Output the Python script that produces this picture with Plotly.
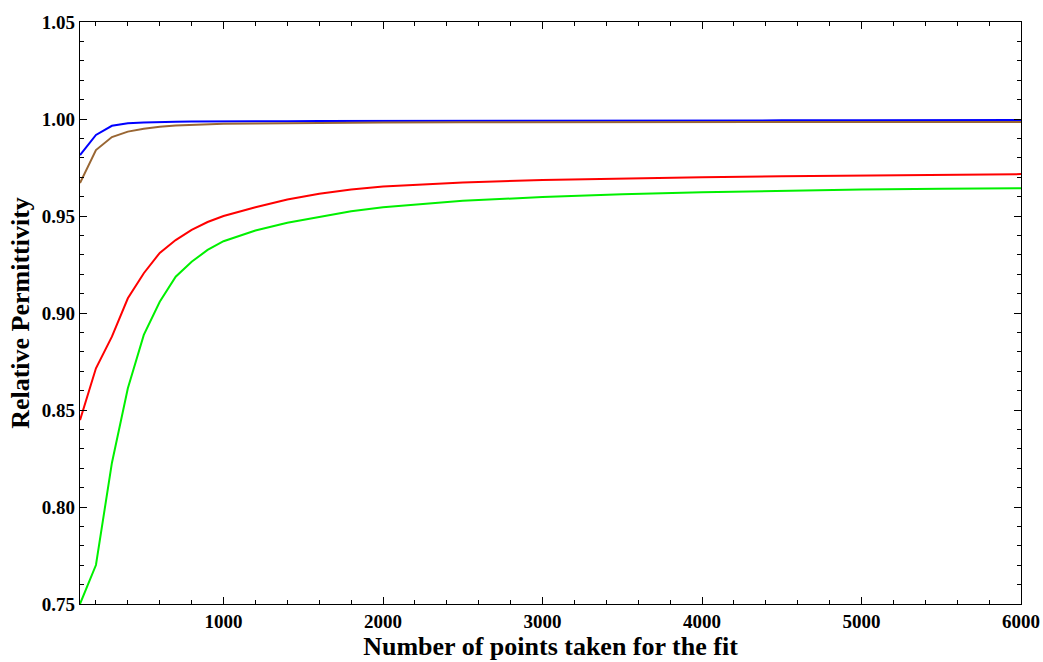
import plotly.graph_objects as go

n_points = [100, 200, 300, 400, 500, 600, 700, 800, 900, 1000,
            1200, 1400, 1600, 1800, 2000, 2500, 3000, 3500, 4000,
            4500, 5000, 5500, 6000]

blue_vals = [0.9814, 0.9918, 0.9965, 0.9978, 0.9982, 0.9985, 0.9986, 0.9987, 0.9988, 0.9988,
             0.9989, 0.9989, 0.9990, 0.9990, 0.9991, 0.9991, 0.9992, 0.9992, 0.9993,
             0.9993, 0.9994, 0.9994, 0.9995]
brown_vals = [0.9670, 0.9840, 0.9907, 0.9935, 0.9950, 0.9960, 0.9966, 0.9970, 0.9973, 0.9975,
              0.9977, 0.9979, 0.9980, 0.9981, 0.9982, 0.9983, 0.9983, 0.9984, 0.9984,
              0.9984, 0.9985, 0.9985, 0.9985]
red_vals = [0.8448, 0.8715, 0.8878, 0.9076, 0.9205, 0.9310, 0.9376, 0.9428, 0.9469, 0.9500,
            0.9545, 0.9585, 0.9615, 0.9637, 0.9652, 0.9673, 0.9686, 0.9694, 0.9700,
            0.9705, 0.9709, 0.9713, 0.9716]
green_vals = [0.7500, 0.7701, 0.8227, 0.8612, 0.8887, 0.9058, 0.9187, 0.9264, 0.9325, 0.9370,
              0.9425, 0.9465, 0.9495, 0.9525, 0.9545, 0.9578, 0.9598, 0.9612, 0.9622,
              0.9630, 0.9636, 0.9640, 0.9643]

x_tickvals = [1000, 2000, 3000, 4000, 5000, 6000]
y_tickvals = [0.75, 0.80, 0.85, 0.90, 0.95, 1.00, 1.05]

series = [
    ("blue", blue_vals, "rgb(0,0,255)"),
    ("brown", brown_vals, "rgb(153,102,51)"),
    ("red", red_vals, "rgb(255,0,0)"),
    ("green", green_vals, "rgb(0,240,0)"),
]

fig = go.Figure()
for name, vals, col in series:
    fig.add_trace(go.Scatter(x=n_points, y=vals, mode="lines", name=name,
                             line=dict(color=col, width=2), showlegend=False))

font_family = "Liberation Serif"
axis_common = dict(
    showline=True, linecolor="black", linewidth=1.2, mirror="allticks",
    ticks="inside", ticklen=7, tickwidth=1, tickcolor="black",
    showgrid=False, zeroline=False, automargin=False,
    tickfont=dict(family=font_family, size=19, color="black", weight="bold"),
)

fig.update_xaxes(
    range=[100, 6000], tickvals=x_tickvals,
    minor=dict(dtick=200, tick0=0, ticks="inside", ticklen=4, tickcolor="black", showgrid=False),
    title=dict(text="<b>Number of points taken for the fit</b>",
               font=dict(family=font_family, size=26, color="black"), standoff=2),
    **axis_common,
)
fig.update_yaxes(
    range=[0.75, 1.05], tickvals=y_tickvals, tickformat=".2f",
    minor=dict(dtick=0.01, tick0=0.75, ticks="inside", ticklen=4, tickcolor="black", showgrid=False),
    title=dict(text="<b>Relative Permittivity</b>",
               font=dict(family=font_family, size=26, color="black"), standoff=4),
    **axis_common,
)

fig.update_layout(
    width=1043, height=662,
    margin=dict(l=80, r=22, t=22, b=58),
    plot_bgcolor="white", paper_bgcolor="white",
)

fig.write_html("out.html")
